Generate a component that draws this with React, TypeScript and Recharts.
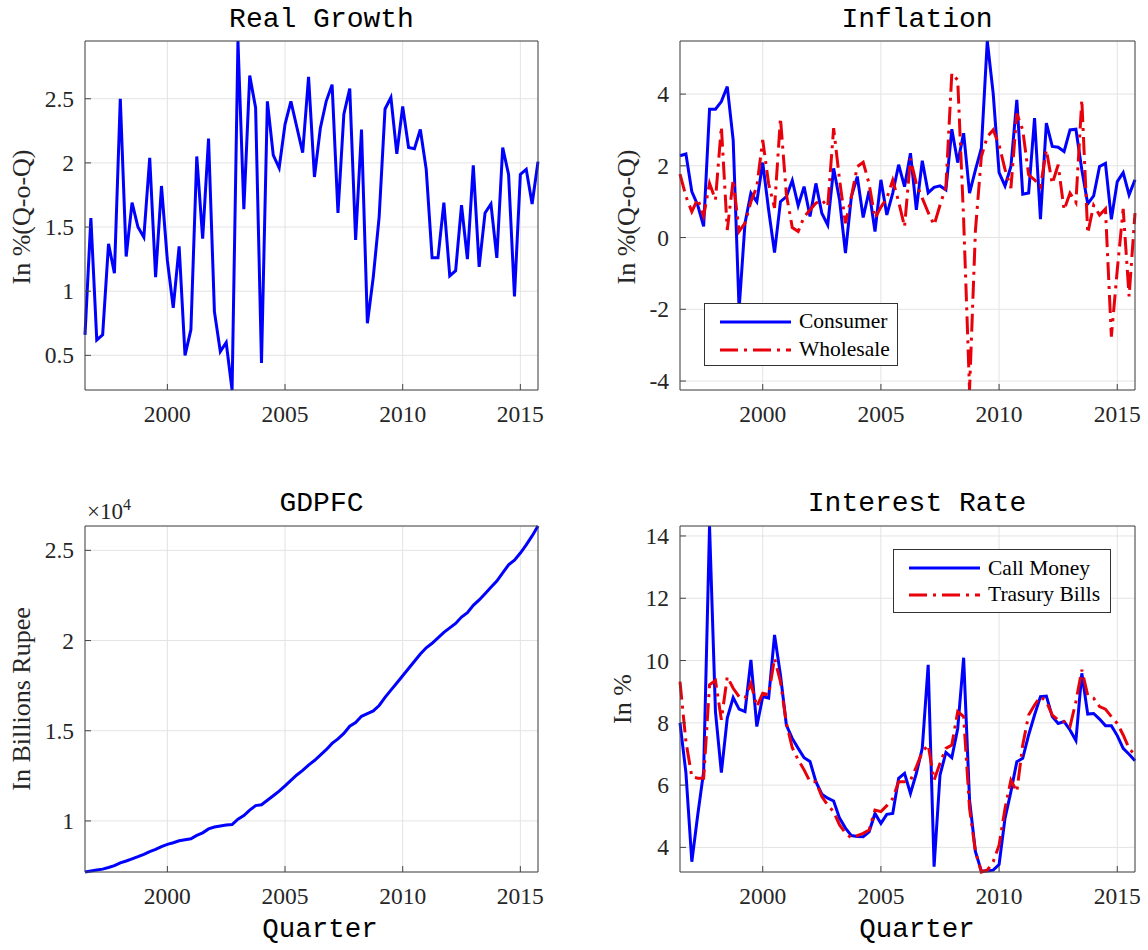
import React from 'react';
import { LineChart, Line, XAxis, YAxis, CartesianGrid, Legend } from 'recharts';

// quarterly observations, 1996 Q3 .. 2015 Q4
const FIRST_QUARTER = 1996.5;
const QUARTERS = Array.from({ length: 78 }, (_, i) => FIRST_QUARTER + i / 4);
const YEAR_TICKS = [2000, 2005, 2010, 2015];

// real GDP growth, % q-o-q
const realGrowth = [
  0.66, 1.57, 0.62, 0.66, 1.37, 1.14, 2.5, 1.27, 1.69, 1.5,
  1.42, 2.04, 1.11, 1.82, 1.24, 0.87, 1.35, 0.5, 0.7, 2.05,
  1.41, 2.19, 0.84, 0.53, 0.6, 0.23, 2.95, 1.64, 2.68, 2.43,
  0.44, 2.48, 2.06, 1.96, 2.3, 2.48, 2.28, 2.08, 2.67, 1.89,
  2.27, 2.48, 2.61, 1.61, 2.38, 2.58, 1.4, 2.26, 0.75, 1.11,
  1.58, 2.42, 2.51, 2.07, 2.44, 2.12, 2.11, 2.26, 1.95, 1.26,
  1.26, 1.69, 1.12, 1.16, 1.67, 1.25, 1.98, 1.19, 1.61, 1.68,
  1.26, 2.12, 1.91, 0.96, 1.91, 1.95, 1.68, 2.01,
];

// consumer and wholesale price inflation, % q-o-q
const consumer = [
  2.28, 2.33, 1.28, 0.9, 0.31, 3.58, 3.58, 3.79, 4.21, 2.72,
  -2.0, 0.4, 1.24, 1.0, 2.09, 0.77, -0.42, 1.0, 1.14, 1.59,
  0.89, 1.42, 0.59, 1.51, 0.68, 0.35, 1.93, 1.05, -0.43, 1.14,
  1.7, 0.56, 1.3, 0.17, 1.61, 0.63, 1.24, 2.03, 1.42, 2.35,
  0.77, 2.14, 1.25, 1.4, 1.44, 1.33, 3.02, 2.09, 2.91, 1.24,
  1.89, 2.49, 5.48, 4.02, 1.81, 1.44, 1.98, 3.84, 1.21, 1.24,
  3.33, 0.51, 3.19, 2.54, 2.52, 2.4, 3.0, 3.02, 1.89, 0.94,
  1.16, 1.98, 2.07, 0.51, 1.56, 1.81, 1.19, 1.61,
];
const wholesale = [
  1.77, 1.15, 0.72, 1.08, 0.6, 1.51, 1.05, 3.09, 0.21, 1.61,
  0.17, 0.4, 1.0, 1.42, 2.72, 1.5, 0.83, 3.33, 1.2, 0.28,
  0.17, 0.58, 0.77, 0.96, 1.05, 0.86, 3.05, 1.61, 0.4, 1.14,
  1.98, 2.1, 1.5, 0.54, 0.85, 1.1, 1.6, 1.0, 0.3, 2.2,
  1.5, 1.1, 0.7, 0.35, 0.9, 1.42, 4.58, 4.39, 0.5, -4.25,
  0.21, 2.26, 2.81, 3.0, 2.58, 1.9, 1.38, 3.46, 3.0, 1.75,
  1.61, 1.42, 2.44, 1.5, 2.03, 0.77, 1.24, 0.98, 3.84, 0.12,
  0.9, 0.63, 0.8, -2.76, -0.9, 0.8, -1.64, 0.68,
];

// GDP at factor cost, billions of rupees
const gdpfc = [
  7170, 7230, 7280, 7330, 7420, 7520, 7680, 7780, 7900, 8020,
  8150, 8300, 8420, 8580, 8700, 8790, 8900, 8960, 9010, 9200,
  9340, 9560, 9660, 9720, 9770, 9800, 10100, 10300, 10600, 10850,
  10900, 11150, 11400, 11650, 11950, 12250, 12550, 12800, 13100, 13350,
  13650, 13950, 14300, 14550, 14850, 15250, 15450, 15800, 15950, 16100,
  16400, 16850, 17250, 17650, 18050, 18450, 18850, 19250, 19600, 19850,
  20150, 20450, 20700, 20950, 21300, 21550, 21950, 22250, 22600, 22950,
  23300, 23750, 24200, 24450, 24850, 25300, 25800, 26350,
];

// call money and treasury bill rates, %
const callMoney = [
  8.0, 6.4, 3.54, 5.04, 6.43, 14.32, 8.36, 6.4, 8.15, 8.81,
  8.44, 8.36, 10.02, 7.88, 8.84, 8.79, 10.82, 9.54, 7.93, 7.5,
  7.18, 6.88, 6.76, 6.11, 5.71, 5.58, 5.49, 4.94, 4.62, 4.38,
  4.35, 4.34, 4.5, 5.09, 4.77, 5.06, 5.09, 6.22, 6.38, 5.73,
  6.38, 7.18, 9.86, 3.38, 6.32, 7.05, 6.88, 7.82, 10.09, 5.52,
  3.86, 3.24, 3.24, 3.27, 3.45, 4.93, 5.79, 6.75, 6.86, 7.61,
  8.25, 8.84, 8.86, 8.2, 7.98, 8.04, 7.77, 7.43, 9.59, 8.28,
  8.3, 8.12, 7.91, 7.91, 7.59, 7.18, 6.99, 6.78,
];
const treasuryBills = [
  9.32, 7.4, 6.27, 6.22, 6.22, 9.22, 9.36, 8.1, 9.48, 9.11,
  8.84, 8.79, 9.27, 8.52, 8.95, 8.9, 10.07, 9.32, 7.99, 7.2,
  6.81, 6.49, 6.11, 6.11, 5.63, 5.36, 5.15, 4.72, 4.46, 4.3,
  4.38, 4.45, 4.56, 5.2, 5.15, 5.34, 5.57, 6.11, 6.11, 6.15,
  6.59, 7.07, 7.29, 6.16, 6.7, 7.18, 7.29, 8.36, 8.2, 5.25,
  3.86, 3.21, 3.27, 3.54, 4.07, 5.25, 6.16, 5.79, 7.29, 8.25,
  8.57, 8.84, 8.68, 8.25, 8.09, 8.04, 7.88, 8.68, 9.7, 8.89,
  8.79, 8.52, 8.44, 8.2, 7.98, 7.61, 7.18, 6.97,
];

const growthTicks = [0.5, 1, 1.5, 2, 2.5];
const inflationTicks = [-4, -2, 0, 2, 4];
const gdpTicks = [10000, 15000, 20000, 25000];
const rateTicks = [4, 6, 8, 10, 12, 14];

const rows = QUARTERS.map((t, i) => ({
  t,
  growth: realGrowth[i],
  cpi: consumer[i],
  wpi: wholesale[i],
  gdp: gdpfc[i],
  call: callMoney[i],
  tbill: treasuryBills[i],
}));

const span = (...series: number[][]) => {
  const all = series.flat();
  return [Math.min(...all), Math.max(...all)];
};

const X_DOMAIN = [QUARTERS[0], QUARTERS[QUARTERS.length - 1]];
const BLUE = '#0000ff';
const RED = '#e8000b';
const DASH_DOT = '18 6 3 6';
const EDGE = '#444';
const GRID = '#e3e3e3';
const SERIF = '"Liberation Serif", "Times New Roman", serif';
const MONO = '"Liberation Mono", "Courier New", monospace';
const TICK_STYLE = { fontFamily: SERIF, fontSize: 23.5, fill: '#262626' };

// tick labels drawn as plain serif text; x/y arrive from the axis layout
const yearTick = (props: any) => (
  <text x={props.x} y={props.y} dy={17} textAnchor="middle" style={TICK_STYLE}>
    {props.payload.value}
  </text>
);
const valueTick = (format: (v: number) => string) => (props: any) => (
  <text x={props.x} y={props.y} dy={8} textAnchor="end" style={TICK_STYLE}>
    {format(props.payload.value)}
  </text>
);

// MATLAB-like boxed axes: labelled bottom/left, bare top/right, ticks pointing in.
// Every axis is 1px thick, so chart margins are 1px smaller than the plot box.
function frame(yDomain: number[], yTicks: number[], yFormat: (v: number) => string) {
  const line = { stroke: EDGE, strokeWidth: 1 };
  return [
    <CartesianGrid key="grid" stroke={GRID} strokeWidth={1} />,
    <XAxis key="xb" dataKey="t" type="number" domain={X_DOMAIN} ticks={YEAR_TICKS} interval={0}
      height={1} tickSize={-6} tickMargin={21} tick={yearTick} axisLine={line} tickLine={line} />,
    <XAxis key="xt" xAxisId="top" orientation="top" dataKey="t" type="number" domain={X_DOMAIN}
      ticks={YEAR_TICKS} interval={0} height={1} tickSize={-6} tick={false} axisLine={line} tickLine={line} />,
    <YAxis key="yl" type="number" domain={yDomain} ticks={yTicks} interval={0} width={1}
      tickSize={-6} tickMargin={17} tick={valueTick(yFormat)} axisLine={line} tickLine={line} />,
    <YAxis key="yr" yAxisId="right" orientation="right" type="number" domain={yDomain} ticks={yTicks}
      interval={0} width={1} tickSize={-6} tick={false} axisLine={line} tickLine={line} />,
  ];
}

const boxLegend = (rowHeight: number, padTop: number) => (props: any) => (
  <div style={{
    boxSizing: 'border-box', width: '100%', height: '100%', background: '#fff',
    border: '1px solid #333', paddingTop: padTop,
  }}>
    {(props.payload || []).map((entry: any) => (
      <div key={entry.value} style={{ display: 'flex', alignItems: 'center', height: rowHeight }}>
        <svg width={86} height={10} style={{ flex: 'none' }}>
          <line x1={15} x2={86} y1={5} y2={5} stroke={entry.color} strokeWidth={3}
            strokeDasharray={entry.payload?.strokeDasharray} />
        </svg>
        <span style={{ marginLeft: 8, fontFamily: SERIF, fontSize: 21.5, color: '#000', lineHeight: 1 }}>
          {entry.value}
        </span>
      </div>
    ))}
  </div>
);

const TITLE = { fontFamily: MONO, fontSize: 28, fill: '#000' };
const AXIS_TITLE = { fontFamily: SERIF, fontSize: 26, fill: '#262626' };

export default function App() {
  const fmt = (v: number) => String(v);
  return (
    <div style={{ position: 'absolute', left: 0, top: 0, width: 1148, height: 950, background: '#fff' }}>
      <div style={{ position: 'absolute', left: 0, top: 0 }}>
        <LineChart width={574} height={450} data={rows} margin={{ top: 40, right: 35, bottom: 59, left: 84 }}>
          {frame(span(realGrowth), growthTicks, fmt)}
          <Line dataKey="growth" name="Real Growth" stroke={BLUE} strokeWidth={3} dot={false} isAnimationActive={false} />
        </LineChart>
      </div>

      <div style={{ position: 'absolute', left: 574, top: 0 }}>
        <LineChart width={574} height={450} data={rows} margin={{ top: 40, right: 12, bottom: 59, left: 105 }}>
          {frame(span(consumer, wholesale), inflationTicks, fmt)}
          <Line dataKey="cpi" name="Consumer" stroke={BLUE} strokeWidth={3} dot={false} isAnimationActive={false} />
          <Line dataKey="wpi" name="Wholesale" stroke={RED} strokeWidth={3} strokeDasharray={DASH_DOT}
            dot={false} isAnimationActive={false} />
          <Legend layout="horizontal" verticalAlign="middle" align="center"
            wrapperStyle={{ left: 130, top: 303, width: 194, height: 63 }} content={boxLegend(28.3, 3.5)} />
        </LineChart>
      </div>

      <div style={{ position: 'absolute', left: 0, top: 475 }}>
        <LineChart width={574} height={475} data={rows} margin={{ top: 50, right: 35, bottom: 77, left: 84 }}>
          {frame(span(gdpfc), gdpTicks, (v) => String(v / 10000))}
          <Line dataKey="gdp" name="GDPFC" stroke={BLUE} strokeWidth={3} dot={false} isAnimationActive={false} />
        </LineChart>
      </div>

      <div style={{ position: 'absolute', left: 574, top: 475 }}>
        <LineChart width={574} height={475} data={rows} margin={{ top: 50, right: 12, bottom: 77, left: 105 }}>
          {frame(span(callMoney, treasuryBills), rateTicks, fmt)}
          <Line dataKey="call" name="Call Money" stroke={BLUE} strokeWidth={3} dot={false} isAnimationActive={false} />
          <Line dataKey="tbill" name="Trasury Bills" stroke={RED} strokeWidth={3} strokeDasharray={DASH_DOT}
            dot={false} isAnimationActive={false} />
          <Legend layout="horizontal" verticalAlign="middle" align="center"
            wrapperStyle={{ left: 319, top: 74, width: 218, height: 64 }} content={boxLegend(26.7, 5)} />
        </LineChart>
      </div>

      <svg width={1148} height={950} style={{ position: 'absolute', left: 0, top: 0, pointerEvents: 'none' }}>
        <text x={321.5} y={27} textAnchor="middle" style={TITLE}>Real Growth</text>
        <text x={917} y={27} textAnchor="middle" style={TITLE}>Inflation</text>
        <text x={321.5} y={511} textAnchor="middle" style={TITLE}>GDPFC</text>
        <text x={917} y={511} textAnchor="middle" style={TITLE}>Interest Rate</text>
        <text x={320} y={937} textAnchor="middle" style={{ ...TITLE, fontSize: 27.5 }}>Quarter</text>
        <text x={917} y={937} textAnchor="middle" style={{ ...TITLE, fontSize: 27.5 }}>Quarter</text>

        <text transform="translate(30 217) rotate(-90)" textAnchor="middle" style={AXIS_TITLE}>In %(Q-o-Q)</text>
        <text transform="translate(635 217) rotate(-90)" textAnchor="middle" style={AXIS_TITLE}>In %(Q-o-Q)</text>
        <text transform="translate(30 699) rotate(-90)" textAnchor="middle" style={AXIS_TITLE}>In Billions Rupee</text>
        <text transform="translate(631 699) rotate(-90)" textAnchor="middle" style={AXIS_TITLE}>In %</text>

        <text x={87} y={519} style={{ fontFamily: SERIF, fontSize: 23, fill: '#262626' }}>
          ×10<tspan dy={-9} fontSize={16}>4</tspan>
        </text>
      </svg>
    </div>
  );
}
